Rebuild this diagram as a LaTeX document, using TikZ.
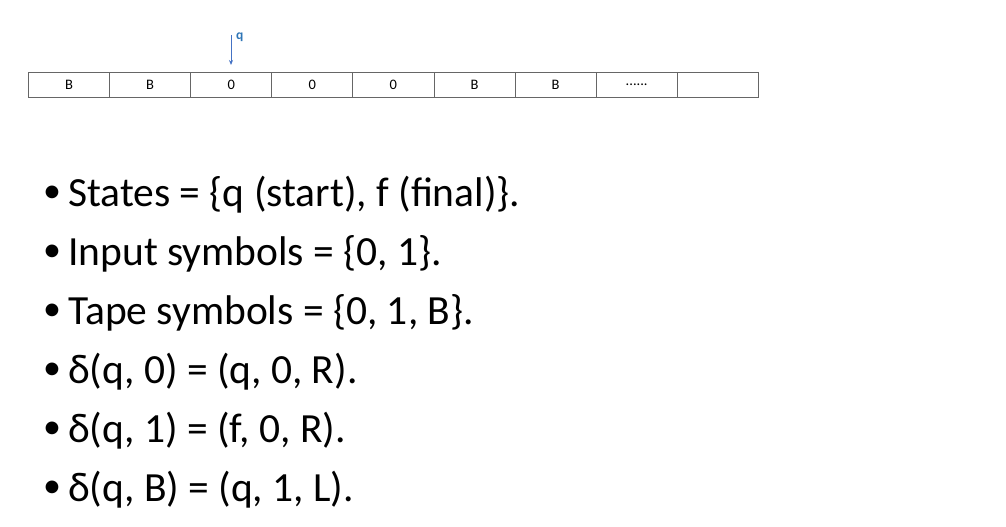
\documentclass[tikz,border=0pt]{standalone}
\usepackage{fontspec}
\setmainfont{Carlito}
\usetikzlibrary{arrows.meta}
\begin{document}
\begin{tikzpicture}[x=1pt,y=-1pt,
  cell/.style={draw=black!60,line width=0.9pt,minimum width=81.1pt,minimum height=25pt,inner sep=0pt,anchor=north west,font=\fontsize{14.5}{16}\selectfont},
  bul/.style={anchor=base west,inner sep=0pt,font=\fontsize{36}{38}\selectfont},
  txt/.style={anchor=base west,inner sep=0pt,font=\fontsize{41.5}{46}\selectfont},
  headarrow/.style={draw={rgb,255:red,68;green,114;blue,196},line width=1pt,-{Stealth[length=5pt,width=4pt]}}
]
\useasboundingbox (0,0) rectangle (1006,527);
\node[cell] (c0) at (28,72) {B};
\node[cell] (c1) at (109.1,72) {B};
\node[cell] (c2) at (190.2,72) {0};
\node[cell] (c3) at (271.3,72) {0};
\node[cell] (c4) at (352.4,72) {0};
\node[cell] (c5) at (433.5,72) {B};
\node[cell] (c6) at (514.6,72) {B};
\node[cell] (c7) at (595.7,72) {......};
\node[cell] (c8) at (676.8,72) {};
\coordinate (top) at (231,35);
\coordinate (tip) at (231,65);
\draw[headarrow] (top) -- (tip);
\node[anchor=base west,inner sep=0pt,text={rgb,255:red,46;green,117;blue,182},font=\fontsize{13.5}{14}\selectfont\bfseries] (q) at (236,40) {q};
\node[bul] (b1) at (43,202) {•};
\node[txt] (t1) at (68,206) {States = \{q (start), f (final)\}.};
\node[bul] (b2) at (43,261) {•};
\node[txt] (t2) at (68,265) {Input symbols = \{0, 1\}.};
\node[bul] (b3) at (43,320) {•};
\node[txt] (t3) at (68,324) {Tape symbols = \{0, 1, B\}.};
\node[bul] (b4) at (43,379) {•};
\node[txt] (t4) at (68,383) {δ(q, 0) = (q, 0, R).};
\node[bul] (b5) at (43,438) {•};
\node[txt] (t5) at (68,442) {δ(q, 1) = (f, 0, R).};
\node[bul] (b6) at (43,497) {•};
\node[txt] (t6) at (68,501) {δ(q, B) = (q, 1, L).};
\end{tikzpicture}
\end{document}
